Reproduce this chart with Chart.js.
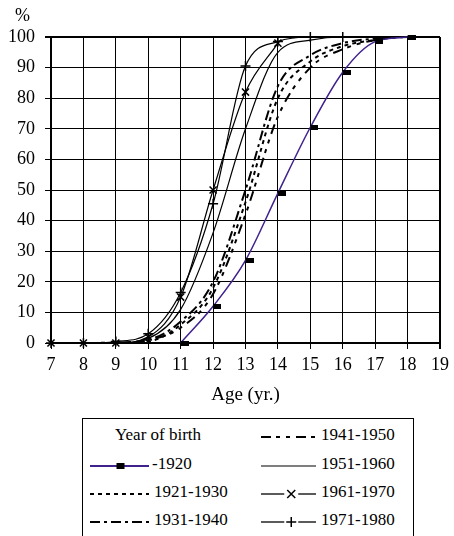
<!DOCTYPE html>
<html><head><meta charset="utf-8">
<script src="https://cdn.jsdelivr.net/npm/chart.js@4.4.1/dist/chart.umd.min.js"></script>
<style>
html,body{margin:0;padding:0;background:#fff;}
body{width:454px;height:536px;overflow:hidden;position:relative;font-family:"Liberation Serif","Times New Roman",serif;color:#000;}
#c{position:absolute;left:0;top:0;}
#pct{position:absolute;left:15px;top:5px;font-size:18px;line-height:20px;}
#legend{position:absolute;left:82px;top:418px;width:332px;height:140px;border:1.5px solid #000;box-sizing:border-box;}
.item{position:absolute;font-size:17px;line-height:20px;white-space:nowrap;}
.sw{position:absolute;}
</style></head>
<body>
<canvas id="c" width="454" height="410"></canvas>
<div id="pct">%</div>
<div id="legend"></div>
<script>
// ---- data ----
const ages = [7, 8, 9, 10, 11, 12, 13, 14, 15, 16, 17, 18, 19];
const yTicks = [0, 10, 20, 30, 40, 50, 60, 70, 80, 90, 100];
const legendTitle = 'Year of birth';
const seriesNames = ['-1920', '1921-1930', '1931-1940', '1941-1950', '1951-1960', '1961-1970', '1971-1980'];
const s1920 = [null, null, null, null, 0, 12, 27, 49, 70.5, 88.5, 98.5, 100, null];
const s1921_1930 = [0, 0, 0, 0.5, 6, 18, 46, 80, 92, 97, 99, 100, 100];
const s1931_1940 = [0, 0, 0, 1, 7, 20, 50, 84, 94, 98, 99.5, 100, 100];
const s1941_1950 = [0, 0, 0.2, 1, 5, 16, 42, 74, 90, 96, 99, 100, 100];
const s1951_1960 = [0, 0, 0, 1.5, 11, 36, 70, 95, 99, 100, 100, 100, 100];
const s1961_1970 = [0, 0, 0, 2, 15, 50, 82, 98, null, null, null, null, null];
const s1971_1980 = [0, 0, 0.5, 3, 16.5, 45.5, 90.5, 98.5, 100, 100, null, null, null];
const seriesValues = [s1920, s1921_1930, s1931_1940, s1941_1950, s1951_1960, s1961_1970, s1971_1980];

// ---- styles ----
const FAMILY = "'Liberation Serif', 'Times New Roman', serif";
const PURPLE = '#40228f';
const rectMarker = document.createElement('canvas');
rectMarker.width = 16; rectMarker.height = 5;
(function(){ const g = rectMarker.getContext('2d'); g.fillStyle = '#000'; g.fillRect(8, 0, 8, 5); })();

const styles = [
  {color: PURPLE, width: 1.5, dash: [], point: rectMarker, radius: 4},
  {color: '#000', width: 2, dash: [4, 4], point: false, radius: 0},
  {color: '#000', width: 2, dash: [10, 4, 3, 4], point: false, radius: 0},
  {color: '#000', width: 2, dash: [10, 5, 4, 6, 4, 6], point: false, radius: 0},
  {color: '#000', width: 1.2, dash: [], point: false, radius: 0},
  {color: '#000', width: 1.2, dash: [], point: 'crossRot', radius: 5},
  {color: '#000', width: 1.2, dash: [], point: 'cross', radius: 5}
];

const datasets = seriesNames.map((name, i) => {
  const st = styles[i];
  const pts = [];
  ages.forEach((a, k) => { const v = seriesValues[i][k]; if (v !== null) pts.push({x: a, y: v}); });
  return {
    label: name,
    data: pts,
    borderColor: st.color,
    borderWidth: st.width,
    borderDash: st.dash,
    cubicInterpolationMode: 'monotone',
    fill: false,
    clip: 8,
    pointStyle: st.point || 'circle',
    pointRadius: st.radius,
    pointBorderColor: '#000',
    pointBackgroundColor: '#000',
    pointBorderWidth: 1.5,
    pointHoverRadius: st.radius
  };
});

function build() {
  new Chart(document.getElementById('c'), {
    type: 'line',
    data: {datasets},
    options: {
      responsive: false,
      animation: false,
      events: [],
      layout: {padding: {left: 0, right: 10, top: 37, bottom: 0}},
      plugins: {legend: {display: false}, tooltip: {enabled: false}},
      scales: {
        x: {
          type: 'linear', min: ages[0], max: ages[ages.length - 1],
          afterBuildTicks: s => { s.ticks = ages.map(v => ({value: v})); },
          grid: {color: '#000', lineWidth: c => (c.tick && c.tick.value === 19) ? 2 : 1, tickLength: 6, tickColor: '#000', drawTicks: true},
          border: {color: '#000', width: 2},
          ticks: {color: '#000', font: {family: FAMILY, size: 18}, padding: 5, maxRotation: 0, autoSkip: false},
          title: {display: true, text: 'Age (yr.)', color: '#000', font: {family: FAMILY, size: 19}, padding: {top: 4, bottom: 4}},
          afterFit: s => { s.height = 67; }
        },
        y: {
          min: 0, max: 100,
          afterBuildTicks: s => { s.ticks = yTicks.map(v => ({value: v})); },
          grid: {color: '#000', lineWidth: c => (c.tick && c.tick.value === 100) ? 2 : 1, tickLength: 6, tickColor: '#000', drawTicks: true},
          border: {color: '#000', width: 2},
          ticks: {color: '#000', font: {family: FAMILY, size: 18}, padding: 10, autoSkip: false},
          afterFit: s => { s.width = 51; }
        }
      }
    }
  });
}

// ---- legend (HTML) ----
const leg = document.getElementById('legend');
function svgSample(st, w, kind) {
  const h = 12, y = 6;
  let inner = '';
  if (kind === 'rect') {
    inner = `<line x1="0" y1="${y}" x2="${w}" y2="${y}" stroke="${st.color}" stroke-width="2"/>` +
            `<rect x="${w/2 - 3}" y="${y - 3}" width="8" height="6" fill="#000"/>`;
  } else if (kind === 'x' || kind === '+') {
    const cx = w * 0.55;
    inner = `<line x1="0" y1="${y}" x2="${cx - 7}" y2="${y}" stroke="#000" stroke-width="1.3"/>` +
            `<line x1="${cx + 7}" y1="${y}" x2="${w}" y2="${y}" stroke="#000" stroke-width="1.3"/>`;
    if (kind === 'x') inner += `<path d="M${cx-4} ${y-4} L${cx+4} ${y+4} M${cx-4} ${y+4} L${cx+4} ${y-4}" stroke="#000" stroke-width="1.5"/>`;
    else inner += `<path d="M${cx-5} ${y} L${cx+5} ${y} M${cx} ${y-5} L${cx} ${y+5}" stroke="#000" stroke-width="1.5"/>`;
  } else {
    inner = `<line x1="0" y1="${y}" x2="${w}" y2="${y}" stroke="#000" stroke-width="${st.width}" stroke-dasharray="${st.dash.join(',')}"/>`;
  }
  return `<svg width="${w}" height="${h}" xmlns="http://www.w3.org/2000/svg">${inner}</svg>`;
}
const rowCenters = [17, 46, 74, 102];
function addText(txt, left, row) {
  const d = document.createElement('div');
  d.className = 'item'; d.textContent = txt;
  d.style.left = left + 'px'; d.style.top = (rowCenters[row] - 11) + 'px';
  leg.appendChild(d);
}
function addSwatch(html, left, row) {
  const d = document.createElement('div');
  d.className = 'sw'; d.innerHTML = html;
  d.style.left = left + 'px'; d.style.top = (rowCenters[row] - 7) + 'px';
  leg.appendChild(d);
}
addText(legendTitle, 32, 0);
const kinds = ['rect', 'line', 'line', 'line', 'line', 'x', '+'];
const cells = [[0, 1], [0, 2], [0, 3], [1, 0], [1, 1], [1, 2], [1, 3]];
seriesNames.forEach((name, i) => {
  const [col, row] = cells[i];
  const swLeft = col === 0 ? 7 : 178;
  const swW = col === 0 ? 59 : 55;
  addSwatch(svgSample(styles[i], swW, kinds[i]), swLeft, row);
  addText(name, swLeft + swW + (i === 0 ? 3 : 5), row);
});

if (document.fonts && document.fonts.load) {
  Promise.all([
    document.fonts.load("18px 'Liberation Serif'"),
    document.fonts.load("19px 'Liberation Serif'")
  ]).then(build, build);
} else {
  build();
}
</script>
</body></html>
